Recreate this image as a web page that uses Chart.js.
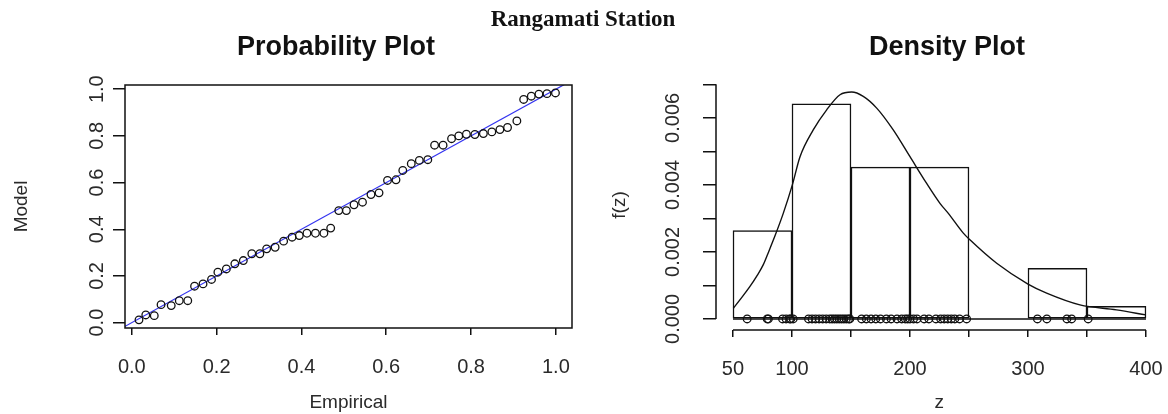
<!DOCTYPE html>
<html>
<head>
<meta charset="utf-8">
<script src="https://cdn.jsdelivr.net/npm/chart.js@4.4.1/dist/chart.umd.min.js"></script>
<style>
  body { margin: 0; background: #fff; }
  #wrap { position: relative; width: 1168px; height: 414px; overflow: hidden; }
  .box { position: absolute; top: 0; height: 414px; }
  .tit { position: absolute; text-align: center; color: #111; white-space: nowrap; }
</style>
</head>
<body>
<div id="wrap">
  <div class="box" style="left:0;width:590px"><canvas id="pp"></canvas></div>
  <div class="box" style="left:590px;width:578px"><canvas id="dp"></canvas></div>
  <div class="tit" style="left:383px;width:400px;top:7px;font:bold 23px 'Liberation Serif',serif;line-height:23px">Rangamati Station</div>
  <div class="tit" style="left:136px;width:400px;top:33px;font:bold 27px 'Liberation Sans',Arial,sans-serif;line-height:27px">Probability Plot</div>
  <div class="tit" style="left:747px;width:400px;top:33px;font:bold 27px 'Liberation Sans',Arial,sans-serif;line-height:27px">Density Plot</div>
</div>
<script>
// Probability plot: empirical vs model probabilities
var ppEmpirical = [0.017, 0.033, 0.053, 0.069, 0.093, 0.112, 0.132, 0.148, 0.168, 0.188,
  0.203, 0.223, 0.243, 0.263, 0.283, 0.302, 0.318, 0.338, 0.358, 0.378,
  0.395, 0.413, 0.433, 0.453, 0.469, 0.488, 0.506, 0.524, 0.544, 0.564,
  0.583, 0.603, 0.623, 0.639, 0.659, 0.678, 0.698, 0.714, 0.734, 0.754,
  0.771, 0.789, 0.809, 0.829, 0.849, 0.868, 0.886, 0.908, 0.924, 0.942,
  0.960, 0.979, 0.999]
var ppModel = [0.012, 0.033, 0.030, 0.077, 0.073, 0.094, 0.094, 0.156, 0.166, 0.185,
  0.216, 0.230, 0.252, 0.266, 0.295, 0.295, 0.316, 0.323, 0.349, 0.366,
  0.373, 0.383, 0.383, 0.383, 0.405, 0.480, 0.480, 0.505, 0.516, 0.549,
  0.556, 0.609, 0.612, 0.652, 0.681, 0.695, 0.698, 0.760, 0.760, 0.788,
  0.800, 0.807, 0.806, 0.810, 0.817, 0.827, 0.836, 0.864, 0.956, 0.970,
  0.979, 0.981, 0.984]
var ppTicks = [0, 0.2, 0.4, 0.6, 0.8, 1.0]
var ppTickLabels = ['0.0', '0.2', '0.4', '0.6', '0.8', '1.0']

// Density plot: histogram, fitted density and the data points
var histMid = [75, 125, 175, 225, 275, 325, 375]
var histDensity = [0.00264, 0.00642, 0.00453, 0.00453, 0, 0.00151, 0.00038]
var curveZ = [50.3, 57, 64.4, 70, 75.7, 80.5, 85.6, 92.6, 100.3, 106.8, 118, 129.4, 140.7, 150.6, 160.4, 171.8,
  185.8, 200, 214, 225.4, 232.5, 245.2, 250.8, 273.5, 300, 315.8, 344, 375, 400]
var curveF = [0.00032, 0.00062, 0.00097, 0.00127, 0.00162, 0.00203, 0.00248, 0.00315, 0.0040, 0.00484, 0.00564, 0.00624,
  0.00669, 0.00677, 0.00664, 0.00629, 0.00564, 0.00484, 0.00405, 0.00345, 0.00315, 0.00256,
  0.00236, 0.00166, 0.00104, 0.00077, 0.00042, 0.00027, 0.00012]
var rugZ = [62, 79, 80, 92, 95, 98, 99, 101, 114, 117, 120, 123, 126, 129, 132, 134, 136, 138,
  140, 142, 144, 146, 148, 149, 159, 163, 167, 171, 175, 180, 184, 189, 193, 196, 198, 200,
  203, 206, 212, 216, 222, 226, 229, 232, 235, 238, 242, 248, 308, 316, 333, 337, 351]
var dpXTicks = [50, 100, 150, 200, 250, 300, 350, 400]
var dpXLabels = ['50', '100', '', '200', '', '300', '', '400']
var dpYTicks = [0, 0.001, 0.002, 0.003, 0.004, 0.005, 0.006, 0.007]
var dpYLabels = ['0.000', '', '0.002', '', '0.004', '', '0.006', '']

var tickFont = "'Liberation Sans', Arial, sans-serif"
var ink = '#111'
var txt = '#2a2a2a'

Chart.defaults.font.family = tickFont
Chart.defaults.color = txt
Chart.defaults.animation = false

function setTicks(values) {
  return function(scale) {
    scale.ticks = values.map(function(v) { return { value: v } })
  }
}
function labelFor(values, labels) {
  return function(v) {
    var i = values.indexOf(v)
    return i < 0 ? '' : labels[i]
  }
}
function fixHeight(h) {
  return function(s) {
    s.height = h
    s.paddingLeft = 0
    s.paddingRight = 0
  }
}

// R style axes: box or short axis lines, rotated y labels
var rAxes = {
  id: 'rAxes',
  afterDraw: function(chart, args, o) {
    var ctx = chart.ctx, a = chart.chartArea, sx = chart.scales.x, sy = chart.scales.y
    ctx.save()
    ctx.strokeStyle = ink
    ctx.lineWidth = 1.5
    ctx.beginPath()
    if (o.box) {
      ctx.rect(a.left, a.top, a.right - a.left, a.bottom - a.top)
    } else {
      var x0 = sx.getPixelForValue(o.xTicks[0]), x1 = sx.getPixelForValue(o.xTicks[o.xTicks.length - 1])
      var y0 = sy.getPixelForValue(o.yTicks[0]), y1 = sy.getPixelForValue(o.yTicks[o.yTicks.length - 1])
      ctx.moveTo(x0, a.bottom); ctx.lineTo(x1, a.bottom)
      ctx.moveTo(a.left, y0); ctx.lineTo(a.left, y1)
      // histogram baseline
      var yb = sy.getPixelForValue(0)
      ctx.moveTo(x0, yb); ctx.lineTo(x1, yb)
    }
    ctx.stroke()
    ctx.fillStyle = txt
    ctx.font = '20px ' + tickFont
    ctx.textAlign = 'center'
    ctx.textBaseline = 'middle'
    o.yTicks.forEach(function(v, i) {
      if (!o.yLabels[i]) return
      ctx.save()
      ctx.translate(a.left - o.yLabelOffset, sy.getPixelForValue(v))
      ctx.rotate(-Math.PI / 2)
      ctx.fillText(o.yLabels[i], 0, 0)
      ctx.restore()
    })
    ctx.restore()
  }
}

var ppPoints = ppEmpirical.map(function(e, i) { return { x: e, y: ppModel[i] } })

new Chart(document.getElementById('pp'), {
  type: 'scatter',
  data: {
    datasets: [{
      data: ppPoints,
      pointStyle: 'circle',
      pointRadius: 3.8,
      pointBorderWidth: 1.3,
      borderColor: ink,
      backgroundColor: 'rgba(0,0,0,0)'
    }, {
      type: 'line',
      data: [{ x: -0.05, y: -0.05 }, { x: 1.1, y: 1.1 }],
      borderColor: '#3434f0',
      borderWidth: 1.2,
      pointRadius: 0,
      clip: 0
    }]
  },
  options: {
    responsive: true,
    maintainAspectRatio: false,
    layout: { padding: { top: 85, right: 18, left: 0, bottom: 0 } },
    plugins: {
      legend: { display: false },
      tooltip: { enabled: false },
      rAxes: { box: true, xTicks: ppTicks, yTicks: ppTicks, yLabels: ppTickLabels, yLabelOffset: 28 }
    },
    scales: {
      x: {
        type: 'linear', min: -0.016, max: 1.038,
        afterBuildTicks: setTicks(ppTicks),
        afterFit: fixHeight(86),
        border: { display: false },
        grid: { drawOnChartArea: false, drawTicks: true, tickLength: 7, color: ink, lineWidth: 1.5 },
        ticks: { callback: labelFor(ppTicks, ppTickLabels), font: { size: 20 }, padding: 20, maxRotation: 0, autoSkip: false },
        title: { display: true, text: 'Empirical', font: { size: 19 }, padding: { top: 0, bottom: 0 } }
      },
      y: {
        type: 'linear', min: -0.023, max: 1.018,
        afterBuildTicks: setTicks(ppTicks),
        afterFit: function(s) { s.width = 125 },
        border: { display: false },
        grid: { drawOnChartArea: false, drawTicks: true, tickLength: 12, color: ink, lineWidth: 1.5 },
        ticks: { display: false },
        title: { display: true, text: 'Model', font: { size: 19 }, padding: { top: 10, bottom: 0 } }
      }
    }
  },
  plugins: [rAxes]
})

var histData = histMid.map(function(m, i) { return { x: m, y: histDensity[i] } })
var curveData = curveZ.map(function(z, i) { return { x: z, y: curveF[i] } })
var rugData = rugZ.map(function(z) { return { x: z, y: 0 } })

new Chart(document.getElementById('dp'), {
  type: 'bar',
  data: {
    datasets: [{
      type: 'bar',
      data: histData,
      backgroundColor: '#fff',
      borderColor: ink,
      borderWidth: 1.5,
      borderSkipped: false,
      barPercentage: 1,
      categoryPercentage: 1,
      order: 3
    }, {
      type: 'line',
      data: curveData,
      borderColor: ink,
      borderWidth: 1.4,
      pointRadius: 0,
      cubicInterpolationMode: 'monotone',
      order: 2
    }, {
      type: 'line',
      data: rugData,
      showLine: false,
      pointRadius: 3.8,
      pointBorderWidth: 1.3,
      borderColor: ink,
      backgroundColor: 'rgba(0,0,0,0)',
      clip: false,
      order: 1
    }]
  },
  options: {
    responsive: true,
    maintainAspectRatio: false,
    layout: { padding: { top: 80, right: 5.5, left: 0, bottom: 0 } },
    plugins: {
      legend: { display: false },
      tooltip: { enabled: false },
      rAxes: { box: false, xTicks: dpXTicks, yTicks: dpYTicks, yLabels: dpYLabels, yLabelOffset: 43 }
    },
    scales: {
      x: {
        type: 'linear', min: 35.6, max: 414, offset: false,
        afterBuildTicks: setTicks(dpXTicks),
        afterFit: fixHeight(84),
        border: { display: false },
        grid: { drawOnChartArea: false, drawTicks: true, tickLength: 7, color: ink, lineWidth: 1.5, offset: false },
        ticks: { callback: labelFor(dpXTicks, dpXLabels), font: { size: 20 }, padding: 20, maxRotation: 0, autoSkip: false },
        title: { display: true, text: 'z', font: { size: 19 }, padding: { top: 0, bottom: 0 } }
      },
      y: {
        type: 'linear', min: -0.00033, max: 0.00713,
        afterBuildTicks: setTicks(dpYTicks),
        afterFit: function(s) { s.width = 126 },
        border: { display: false },
        grid: { drawOnChartArea: false, drawTicks: true, tickLength: 13, color: ink, lineWidth: 1.5 },
        ticks: { display: false },
        title: { display: true, text: 'f(z)', font: { size: 19 }, padding: { top: 18, bottom: 0 } }
      }
    }
  },
  plugins: [rAxes]
})
</script>
</body>
</html>
